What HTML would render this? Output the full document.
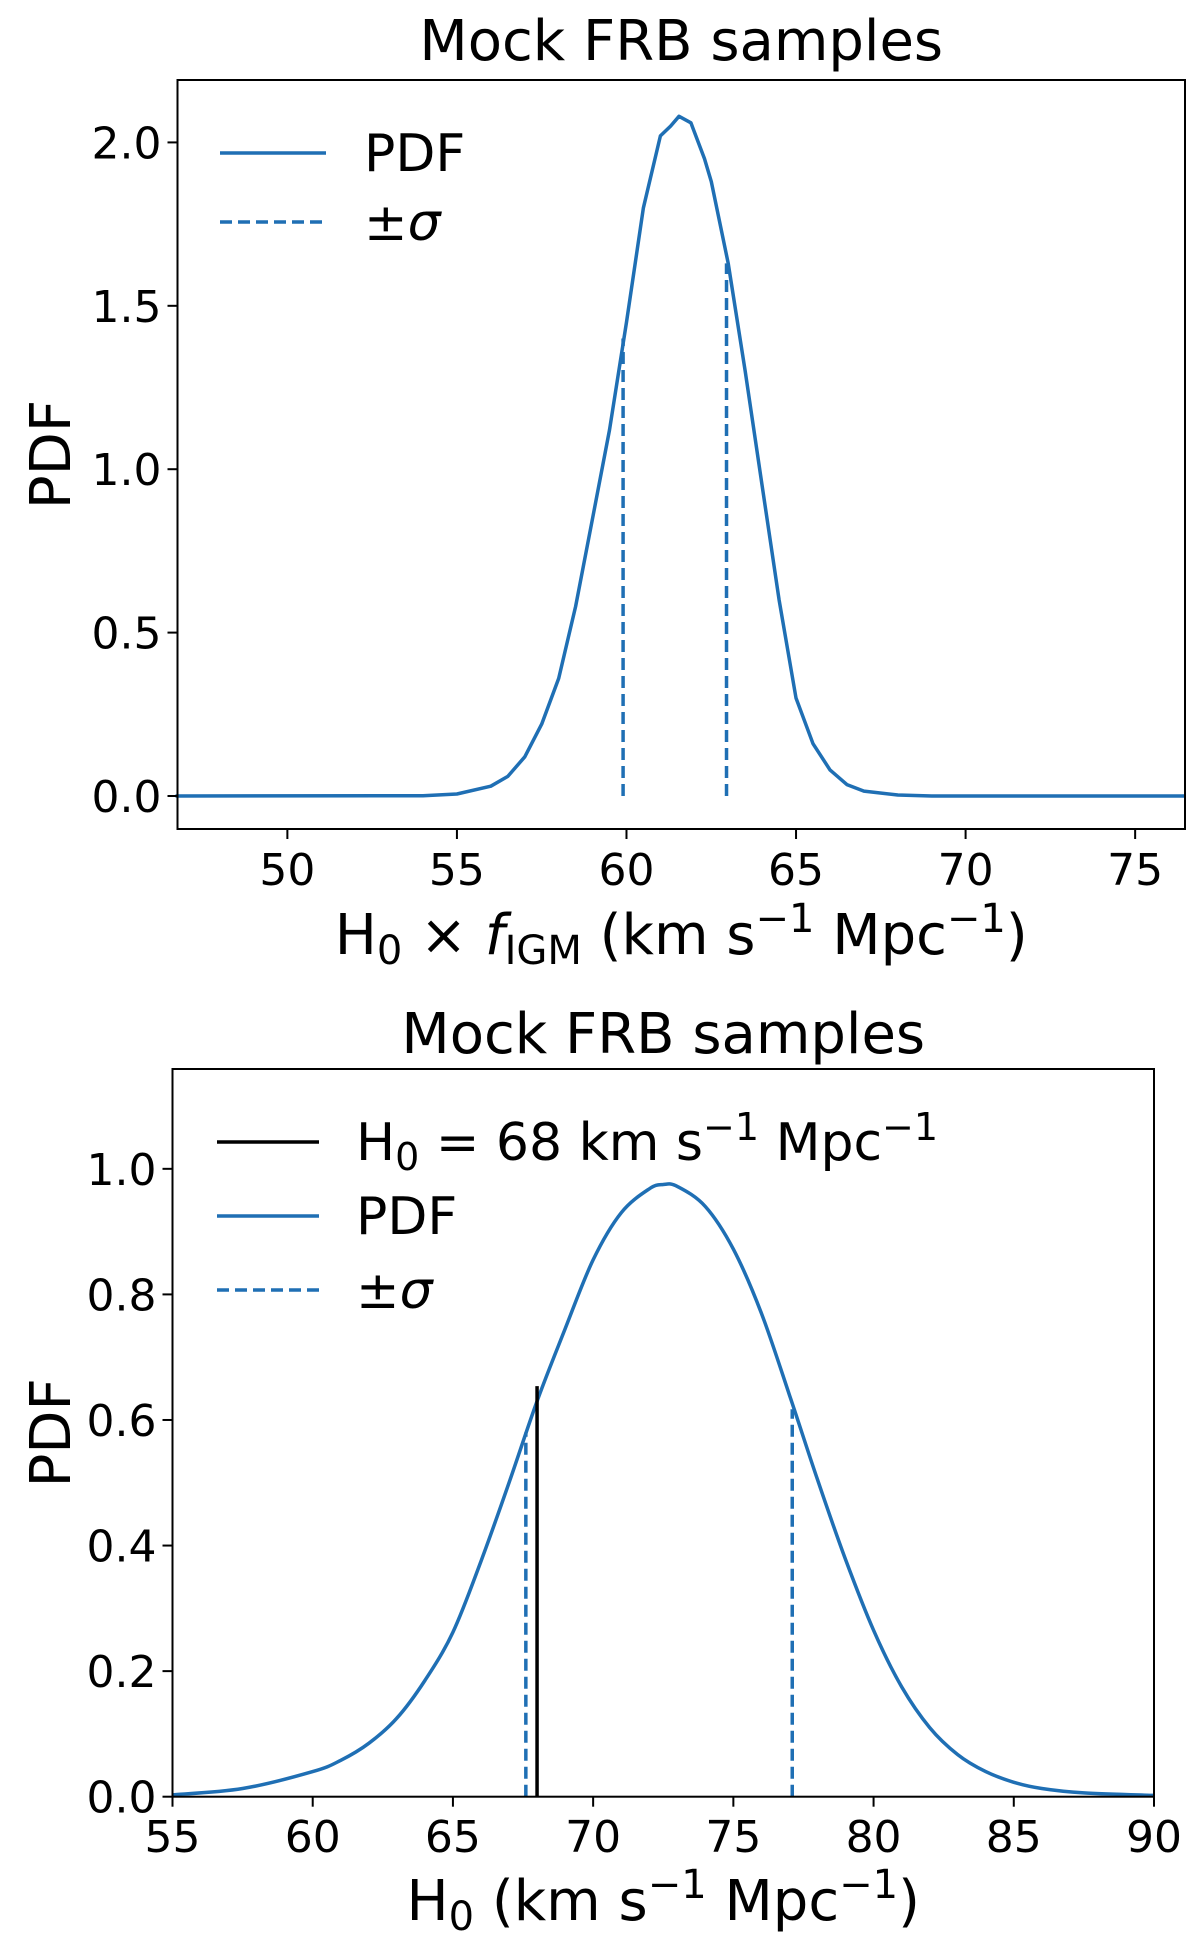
<!DOCTYPE html>
<html><head><meta charset="utf-8"><style>
body{margin:0;background:#fff}
svg{display:block;font-family:"DejaVu Sans","Liberation Sans",sans-serif}
</style></head><body>
<svg id="fig" width="1200" height="1952" viewBox="0 0 1200 1952"></svg>
<script>
// ---- Top panel data ----
const topX = [46.7,54,55,56,56.5,57,57.5,58,58.5,59,59.5,60,60.5,61,61.3,61.55,61.9,62.3,62.5,63,63.5,64,64.5,65,65.5,66,66.5,67,68,69,76.5];
const topY = [0,0.001,0.006,0.03,0.06,0.12,0.22,0.36,0.58,0.85,1.12,1.45,1.8,2.02,2.05,2.08,2.06,1.95,1.88,1.63,1.3,0.95,0.6,0.3,0.16,0.08,0.035,0.015,0.003,0,0];
const topSigma = [59.9, 62.95];
const topSigmaVal = [1.40, 1.63];
const topXTicks = [50,55,60,65,70,75];
const topYTicks = [0,0.5,1.0,1.5,2.0];
const topYTickLabels = ["0.0","0.5","1.0","1.5","2.0"];
// ---- Bottom panel data ----
const botX = [55,57.5,60,61,62,63,64,65,66,67,68,69,70,71,72,72.5,73,74,75,76,77,78,79,80,81,82,83,84,85,86,87.5,90];
const botY = [0.003,0.013,0.04,0.058,0.085,0.125,0.185,0.262,0.375,0.5,0.63,0.745,0.855,0.93,0.968,0.975,0.972,0.94,0.872,0.77,0.64,0.505,0.378,0.265,0.175,0.11,0.067,0.04,0.023,0.013,0.006,0.002];
const botSigma = [67.6, 77.1];
const botSigmaVal = [0.58, 0.617];
const botRef = [68];
const botRefVal = [0.654];
const botXTicks = [55,60,65,70,75,80,85,90];
const botYTicks = [0,0.2,0.4,0.6,0.8,1.0];
const botYTickLabels = ["0.0","0.2","0.4","0.6","0.8","1.0"];

const NS="http://www.w3.org/2000/svg";
const svg=document.getElementById('fig');
const BLUE="#1f6fb4";
function mk(tag,attrs,parent,text){const e=document.createElementNS(NS,tag);for(const k in attrs)e.setAttribute(k,attrs[k]);if(text!==undefined)e.innerHTML=text;(parent||svg).appendChild(e);return e;}

function smoothPath(pts){
  let d='M'+pts[0][0].toFixed(1)+','+pts[0][1].toFixed(1);
  for(let i=0;i<pts.length-1;i++){
    const p0=pts[i-1]||pts[i],p1=pts[i],p2=pts[i+1],p3=pts[i+2]||p2;
    const c1=[p1[0]+(p2[0]-p0[0])/6,p1[1]+(p2[1]-p0[1])/6];
    const c2=[p2[0]-(p3[0]-p1[0])/6,p2[1]-(p3[1]-p1[1])/6];
    d+='C'+c1[0].toFixed(1)+','+c1[1].toFixed(1)+' '+c2[0].toFixed(1)+','+c2[1].toFixed(1)+' '+p2[0].toFixed(1)+','+p2[1].toFixed(1);
  }
  return d;
}

function panel(o){
  const g=mk('g',{});
  
  
  const sx=v=>o.L+(v-o.x0)/(o.x1-o.x0)*(o.R-o.L);
  const sy=v=>o.B-(v-o.y0)/(o.y1-o.y0)*(o.B-o.T);
  const pts=o.cx.map((x,i)=>[sx(x),sy(o.cy[i])]);
  const d=o.smooth?smoothPath(pts):pts.map((p,i)=>(i?'L':'M')+p[0].toFixed(1)+','+p[1].toFixed(1)).join('');
  const cp=mk('path',{d:d,fill:'none',stroke:BLUE,'stroke-width':3.5,'stroke-linejoin':'round'},g);
  
  
  o.sig.forEach((s,i)=>{
    const l=mk('line',{x1:sx(s),x2:sx(s),y1:sy(0),y2:sy(o.sigv[i]),stroke:BLUE,'stroke-width':3.5,'stroke-dasharray':'12,6'},g);
    
    
  });
  if(o.ref){o.ref.forEach((r,i)=>{
    const l=mk('line',{x1:sx(r),x2:sx(r),y1:sy(0),y2:sy(o.refv[i]),stroke:'#000','stroke-width':3.5},g);
    
    
  });}
  const fr=mk('rect',{x:o.L,y:o.T,width:o.R-o.L,height:o.B-o.T,fill:'none',stroke:'#000','stroke-width':2},g);
  
  
  o.xt.forEach(t=>{
    mk('line',{x1:sx(t),x2:sx(t),y1:o.B,y2:o.B+10,stroke:'#000','stroke-width':2},g);
    const tx=mk('text',{x:sx(t),y:o.xtY,'text-anchor':'middle','font-size':44},g,String(t));
    
    
  });
  o.yt.forEach((t,i)=>{
    mk('line',{x1:o.L-10,x2:o.L,y1:sy(t),y2:sy(t),stroke:'#000','stroke-width':2},g);
    const tx=mk('text',{x:o.L-16,y:sy(t)+16,'text-anchor':'end','font-size':44},g,o.ytl[i]);
    
    
  });
  const ti=mk('text',{x:(o.L+o.R)/2,y:o.titleY,'text-anchor':'middle','font-size':56},g,'Mock FRB samples');
  
  
  const xl=mk('text',{x:(o.L+o.R)/2,y:o.xlY,'text-anchor':'middle','font-size':56},g,o.xlab);
  
  
  const yc=(o.T+o.B)/2;
  const yl=mk('text',{x:70,y:yc,'text-anchor':'middle','font-size':56,transform:'rotate(-90 70 '+yc+')'},g,'PDF');
  
  
  o.leg.forEach(e=>{
    const lg=mk('g',{},g);
    
    
    const a={x1:e.x1,x2:e.x2,y1:e.y,y2:e.y,stroke:e.c,'stroke-width':3.5};
    if(e.dash)a['stroke-dasharray']='12,6';
    mk('line',a,lg);
    mk('text',{x:e.tx,y:e.y+18,'font-size':52},lg,e.t);
  });
}

panel({name:'top-panel',L:177.5,R:1185,T:80,B:829,x0:46.76,x1:76.47,y0:-0.101,y1:2.191,
  cx:topX,cy:topY,sig:topSigma,sigv:topSigmaVal,xt:topXTicks,yt:topYTicks,ytl:topYTickLabels,
  xtY:885,titleY:60,xlY:954,
  xlab:'H<tspan font-size="40" dy="10">0</tspan><tspan dy="-10"> × </tspan><tspan font-style="italic">f</tspan><tspan font-size="40" dy="10">IGM</tspan><tspan dy="-10"> (km s</tspan><tspan font-size="40" dy="-22">−1</tspan><tspan dy="22"> Mpc</tspan><tspan font-size="40" dy="-22">−1</tspan><tspan dy="22">)</tspan>',
  leg:[{x1:220,x2:326,y:153,c:BLUE,tx:364,t:'PDF'},{x1:220,x2:326,y:222,c:BLUE,dash:1,tx:364,t:'±<tspan font-style="italic">σ</tspan>'}]});

panel({name:'bottom-panel',L:172.5,R:1154,T:1069,B:1796.7,x0:55,x1:90,y0:0,y1:1.159,smooth:1,
  cx:botX,cy:botY,sig:botSigma,sigv:botSigmaVal,ref:botRef,refv:botRefVal,xt:botXTicks,yt:botYTicks,ytl:botYTickLabels,
  xtY:1852,titleY:1053,xlY:1920,
  xlab:'H<tspan font-size="40" dy="10">0</tspan><tspan dy="-10"> (km s</tspan><tspan font-size="40" dy="-22">−1</tspan><tspan dy="22"> Mpc</tspan><tspan font-size="40" dy="-22">−1</tspan><tspan dy="22">)</tspan>',
  leg:[{x1:217,x2:319,y:1142,c:'#000',tx:356,t:'H<tspan font-size="38" dy="10">0</tspan><tspan dy="-10"> = 68 km s</tspan><tspan font-size="38" dy="-20">−1</tspan><tspan dy="20"> Mpc</tspan><tspan font-size="38" dy="-20">−1</tspan>'},
       {x1:217,x2:319,y:1216,c:BLUE,tx:356,t:'PDF'},
       {x1:217,x2:319,y:1290,c:BLUE,dash:1,tx:356,t:'±<tspan font-style="italic">σ</tspan>'}]});
</script>
</body></html>
